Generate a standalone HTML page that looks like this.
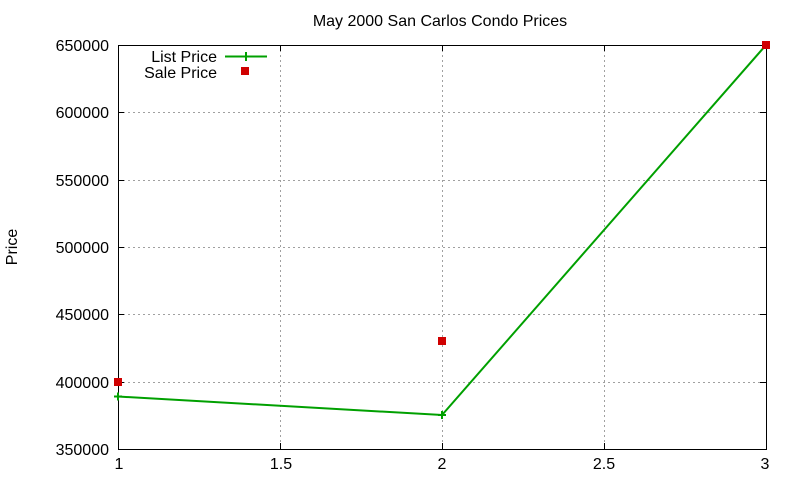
<!DOCTYPE html>
<html><head><meta charset="utf-8"><style>
html,body{margin:0;padding:0;background:#fff;}
svg{display:block;font-family:"Liberation Sans",sans-serif;}
</style></head><body>
<svg width="800" height="480" viewBox="0 0 800 480">
<rect width="800" height="480" fill="#fff"/>
<g stroke="#a0a0a0" stroke-width="1" stroke-dasharray="2,3">
<line x1="280.5" y1="45" x2="280.5" y2="449"/>
<line x1="442.5" y1="45" x2="442.5" y2="449"/>
<line x1="604.5" y1="45" x2="604.5" y2="449"/>
<line x1="118" y1="112.5" x2="766" y2="112.5"/>
<line x1="118" y1="180.5" x2="766" y2="180.5"/>
<line x1="118" y1="247.5" x2="766" y2="247.5"/>
<line x1="118" y1="314.5" x2="766" y2="314.5"/>
<line x1="118" y1="382.5" x2="766" y2="382.5"/>
</g>
<g stroke="#000" stroke-width="1">
<rect x="118.5" y="45.5" width="648" height="404" fill="none"/>
<line x1="118" y1="112.5" x2="124" y2="112.5"/><line x1="766" y1="112.5" x2="760" y2="112.5"/>
<line x1="118" y1="180.5" x2="124" y2="180.5"/><line x1="766" y1="180.5" x2="760" y2="180.5"/>
<line x1="118" y1="247.5" x2="124" y2="247.5"/><line x1="766" y1="247.5" x2="760" y2="247.5"/>
<line x1="118" y1="314.5" x2="124" y2="314.5"/><line x1="766" y1="314.5" x2="760" y2="314.5"/>
<line x1="118" y1="382.5" x2="124" y2="382.5"/><line x1="766" y1="382.5" x2="760" y2="382.5"/>
<line x1="280.5" y1="449" x2="280.5" y2="443"/><line x1="280.5" y1="45" x2="280.5" y2="51"/>
<line x1="442.5" y1="449" x2="442.5" y2="443"/><line x1="442.5" y1="45" x2="442.5" y2="51"/>
<line x1="604.5" y1="449" x2="604.5" y2="443"/><line x1="604.5" y1="45" x2="604.5" y2="51"/>
</g>
<g font-size="16" fill="#000" text-anchor="end">
<text x="109" y="51">650000</text>
<text x="109" y="118">600000</text>
<text x="109" y="186">550000</text>
<text x="109" y="253">500000</text>
<text x="109" y="320">450000</text>
<text x="109" y="388">400000</text>
<text x="109" y="455">350000</text>
</g>
<g font-size="16" fill="#000" text-anchor="middle">
<text x="119" y="469">1</text>
<text x="281" y="469">1.5</text>
<text x="442" y="469">2</text>
<text x="604" y="469">2.5</text>
<text x="765" y="469">3</text>
<text x="440" y="26">May 2000 San Carlos Condo Prices</text>
<text transform="translate(17,247) rotate(-90)">Price</text>
</g>
<g font-size="16" fill="#000" text-anchor="end">
<text x="217" y="62">List Price</text>
<text x="217" y="78">Sale Price</text>
</g>
<g stroke="#00a000" stroke-width="2" fill="none">
<line x1="225" y1="56.5" x2="267" y2="56.5"/>
<line x1="246" y1="52" x2="246" y2="61"/>
<polyline points="118,396.5 442,415 766,45"/>
<path d="M114,396.5h8M118,392.5v8M438,415h8M442,411v8M762,45h8M766,41v8"/>
</g>
<g fill="#d00000">
<rect x="241" y="67" width="8" height="8"/>
<rect x="114" y="378" width="8" height="8"/>
<rect x="438" y="337" width="8" height="8"/>
<rect x="762" y="41" width="8" height="8"/>
</g>
</svg>
</body></html>
